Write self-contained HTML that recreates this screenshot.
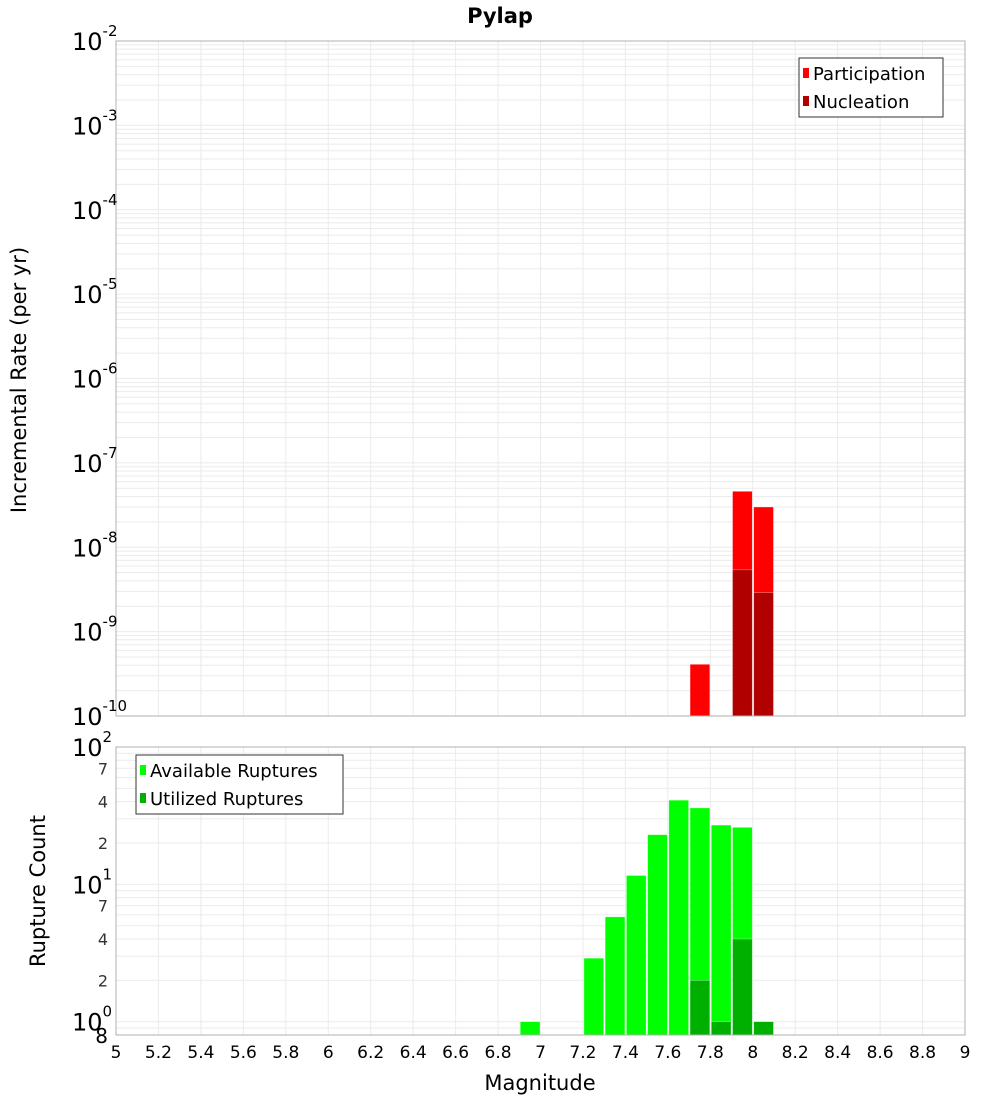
<!DOCTYPE html>
<html><head><meta charset="utf-8"><style>
body{margin:0;background:#fff;}
svg{display:block;font-family:"DejaVu Sans","Liberation Sans",sans-serif;}
</style></head><body>
<svg id="c" width="1000" height="1100"></svg>
<script>
const magCategories=[6.95,7.25,7.35,7.45,7.55,7.65,7.75,7.85,7.95,8.05];
const participationMags=[7.75,7.95,8.05];
const participationRates=[4.1e-10,4.6e-8,3.0e-8];
const nucleationMags=[7.95,8.05];
const nucleationRates=[5.4e-9,2.9e-9];
const availableMags=[6.95,7.25,7.35,7.45,7.55,7.65,7.75,7.85,7.95];
const availableCounts=[1,2.9,5.8,11.6,23,41,36,27,26];
const utilizedMags=[7.75,7.85,7.95,8.05];
const utilizedCounts=[2,1,4,1];
const xTickLabels=["5","5.2","5.4","5.6","5.8","6","6.2","6.4","6.6","6.8","7","7.2","7.4","7.6","7.8","8","8.2","8.4","8.6","8.8","9"];
const topExps=[-2,-3,-4,-5,-6,-7,-8,-9,-10];
const botMinorLabels=[[70,"7"],[40,"4"],[20,"2"],[7,"7"],[4,"4"],[2,"2"]];

const NS="http://www.w3.org/2000/svg";
const svg=document.getElementById('c');
function mk(t,a,p){const e=document.createElementNS(NS,t);for(const k in a)e.setAttribute(k,a[k]);(p||svg).appendChild(e);return e;}
const L=116,R=965;
const T1=41,B1=716,T2=747,B2=1035;
const x=m=>L+(m-5)/4*(R-L);
const yTop=v=>T1+(-2-Math.log10(v))/8*(B1-T1);
const lb2=Math.log10(0.8);
const yBot=v=>T2+(2-Math.log10(v))/(2-lb2)*(B2-T2);

// grids
function grids(top,bot,yf,lo,hi,name){
  const g=mk('g',{});
  
  
  for(let e=lo;e<hi;e++)for(let k=1;k<10;k++){const v=k*Math.pow(10,e);const y=yf(v);if(y<top-0.5||y>bot+0.5)continue;
    mk('line',{x1:L,x2:R,y1:y,y2:y,stroke:'#ebebeb','stroke-width':1},g);}
  for(let i=0;i<xTickLabels.length;i++){const xx=x(5+0.2*i);mk('line',{x1:xx,x2:xx,y1:top,y2:bot,stroke:'#ebebeb','stroke-width':1},g);}
}
grids(T1,B1,yTop,-10,-1,'top-grid');
grids(T2,B2,yBot,-1,3,'bottom-grid');

function bar(m,v,yf,bot,fill,name){
  const r=mk('rect',{x:x(m-0.05)+1,y:yf(v),width:x(m+0.05)-x(m-0.05)-1.5,height:bot-yf(v),fill:fill,stroke:'rgba(255,255,255,0.5)','stroke-width':0.6});
  
  
}
participationMags.forEach((m,i)=>bar(m,participationRates[i],yTop,B1,'#ff0000','participation-bar-'+m));
nucleationMags.forEach((m,i)=>bar(m,nucleationRates[i],yTop,B1,'#b00000','nucleation-bar-'+m));
availableMags.forEach((m,i)=>bar(m,availableCounts[i],yBot,B2,'#00ff00','available-bar-'+m));
utilizedMags.forEach((m,i)=>bar(m,utilizedCounts[i],yBot,B2,'#00b000','utilized-bar-'+m));

// frames
const f1=mk('rect',{x:L,y:T1,width:R-L,height:B1-T1,fill:'none',stroke:'#b0b0b0'});


const f2=mk('rect',{x:L,y:T2,width:R-L,height:B2-T2,fill:'none',stroke:'#b0b0b0'});



// title
const t=mk('text',{x:500,y:23,'text-anchor':'middle','font-size':21,'font-weight':'bold'});t.textContent='Pylap';



// top y ticks
topExps.forEach(e=>{const y=yTop(Math.pow(10,e));
  const tx=mk('text',{x:72,y:y+9,'font-size':24});
  
  
  tx.textContent='10';
  const s=mk('tspan',{dy:-14,'font-size':15});s.textContent=String(e);tx.appendChild(s);
});
// bottom y ticks
[[100,'2'],[10,'1'],[1,'0']].forEach(([v,e])=>{const y=yBot(v);
  const tx=mk('text',{x:72,y:y+9,'font-size':24});
  
  
  tx.textContent='10';
  const s=mk('tspan',{dy:-14,'font-size':15});s.textContent=e;tx.appendChild(s);
});
botMinorLabels.forEach(([v,l])=>{const y=yBot(v);
  const tx=mk('text',{x:108,y:y+6,'font-size':16,'text-anchor':'end',fill:'#333'});tx.textContent=l;
  
  
});
const t8=mk('text',{x:108,y:B2+8,'font-size':20,'text-anchor':'end'});t8.textContent='8';



// x ticks
xTickLabels.forEach((l,i)=>{const tx=mk('text',{x:x(5+0.2*i),y:1058,'font-size':17,'text-anchor':'middle'});tx.textContent=l;
  
  
});
const xt=mk('text',{x:540,y:1090,'font-size':21,'text-anchor':'middle'});xt.textContent='Magnitude';


const yt1=mk('text',{x:0,y:0,'font-size':21,'text-anchor':'middle',transform:'translate(26,380) rotate(-90)'});yt1.textContent='Incremental Rate (per yr)';


const yt2=mk('text',{x:0,y:0,'font-size':21,'text-anchor':'middle',transform:'translate(45,891) rotate(-90)'});yt2.textContent='Rupture Count';



// legends
function legend(x0,y0,w,h,items,name){
  const g=mk('g',{});
  
  
  mk('rect',{x:x0,y:y0,width:w,height:h,fill:'#fff',stroke:'#333'},g);
  items.forEach(([c,l],i)=>{const cy=y0+15+i*28;
    mk('rect',{x:x0+4,y:cy-5,width:6,height:10,fill:c},g);
    const tx=mk('text',{x:x0+14,y:cy+7,'font-size':18},g);tx.textContent=l;
    
    
  });
}
legend(799,58,144,59,[['#ff0000','Participation'],['#b00000','Nucleation']],'top-legend');
legend(136,755,207,59,[['#00ff00','Available Ruptures'],['#00b000','Utilized Ruptures']],'bottom-legend');
</script>
</body></html>
